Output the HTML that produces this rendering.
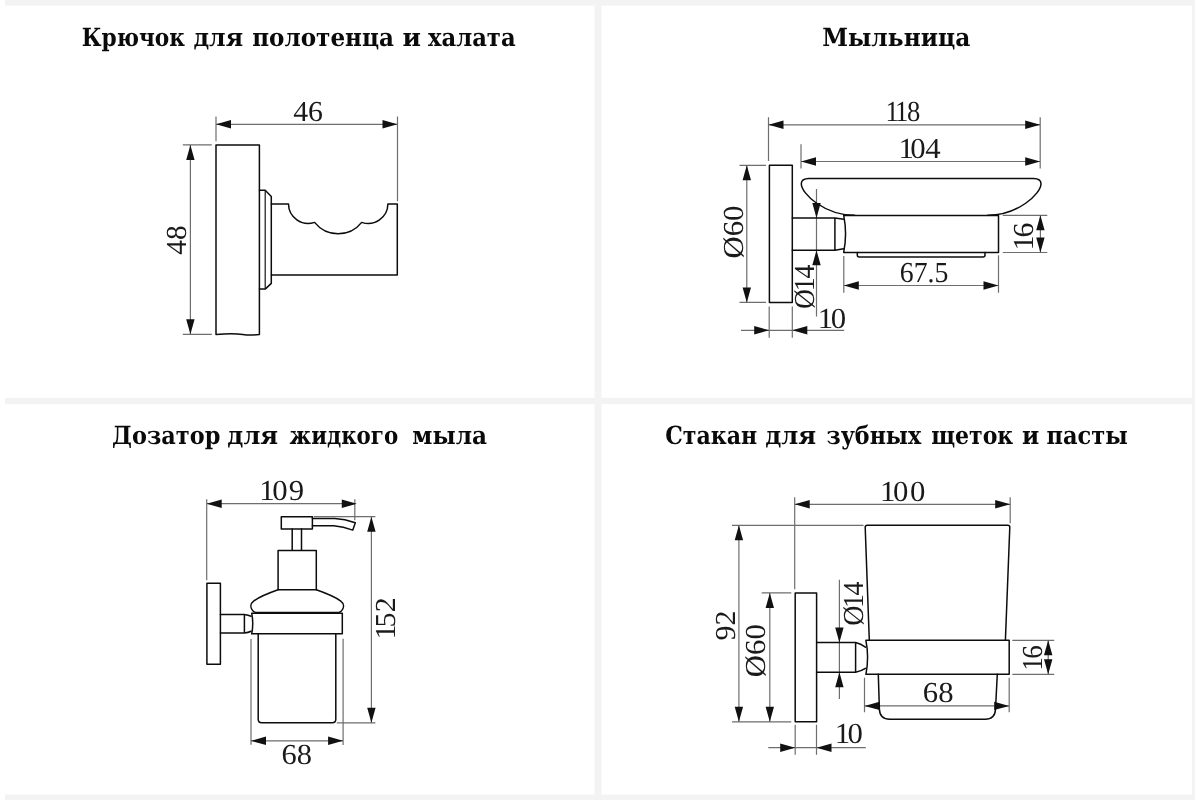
<!DOCTYPE html>
<html lang="ru">
<head>
<meta charset="utf-8">
<title>Размеры аксессуаров для ванной</title>
<style>
html,body{margin:0;padding:0;background:#fff;}
body{width:1200px;height:800px;overflow:hidden;position:relative;}
svg{position:absolute;left:0;top:0;display:block;will-change:transform;}
text{text-rendering:geometricPrecision;}
.h{font-family:"DejaVu Serif","Liberation Serif",serif;font-weight:bold;font-size:25px;fill:#0a0a0a;}
.d{font-family:"Liberation Serif",serif;font-size:28px;fill:#1a1a1a;}
.o{fill:none;stroke:#0c0c0c;stroke-width:1.5;stroke-linejoin:round;stroke-linecap:round;}
.t{fill:none;stroke:#151515;stroke-width:1.2;}
.e{fill:none;stroke:#6e6e6e;stroke-width:1.2;}
.a{fill:#111;stroke:none;}
</style>
</head>
<body>
<svg width="1200" height="800" viewBox="0 0 1200 800">
<g fill="#f3f3f3">
<rect x="5" y="0" width="1189.8" height="5.6"/>
<rect x="5" y="794.6" width="1189.8" height="5.4"/>
<rect x="1192" y="0" width="2.8" height="800"/>
<rect x="594.5" y="0" width="7" height="800"/>
<rect x="5" y="397.8" width="1189.8" height="6.4"/>
</g>
<!-- PANEL 1: hook -->
<g id="p1" transform="translate(-0.2 0.3)">
<text class="h" y="45.6"><tspan x="82.02" textLength="103.20" lengthAdjust="spacingAndGlyphs">Крючок</tspan> <tspan x="193.58" textLength="49.66" lengthAdjust="spacingAndGlyphs">для</tspan> <tspan x="252.39" textLength="141.80" lengthAdjust="spacingAndGlyphs">полотенца</tspan> <tspan x="402.73" textLength="18.46" lengthAdjust="spacingAndGlyphs">и</tspan> <tspan x="428.10" textLength="87.76" lengthAdjust="spacingAndGlyphs">халата</tspan></text>
<path class="e" d="M216.2 116.2V141 M397.7 116.2V201 M216.2 124H397.7 M183 144.6H212 M183 334H212 M190.6 144.6V334"/>
<path class="a" d="M216.2 124l15 -4.2v8.4z M397.7 124l-15 -4.2v8.4z M190.6 144.6l-4.2 15h8.4z M190.6 334l-4.2 -15h8.4z"/>
<text class="d" transform="translate(293.40 120.2) scale(1.064 1.035)">46</text>
<text class="d" transform="translate(186.2 254.39) rotate(-90) scale(1.049 1.035)">48</text>
<path class="o" d="M216.2 334.2V144.6H259.6V334.2 M216.2 334.2C228 333 236 333 243 334.2S255 334.8 259.6 334.2"/>
<path class="o" d="M259.6 190H265.4L271.5 196.2V283.1L265.4 288.8H259.6"/>
<path class="t" d="M265.4 190V288.8"/>
<path class="o" d="M271.5 203.8H288.7A19.7 19.7 0 0 0 314.8 222.1A30 30 0 0 0 361.9 222.1A19.7 19.7 0 0 0 388.1 203.8H397.5V274.7H271.5"/>
</g>
<!-- PANEL 2: soap dish -->
<g id="p2" transform="translate(-0.2 0.3)">
<text class="h" y="45.4"><tspan x="822.37" textLength="148.18" lengthAdjust="spacingAndGlyphs">Мыльница</tspan></text>
<path class="e" d="M768.7 116.9V160.6 M1040.4 116.9V168.1 M801.2 144V168.1 M768.7 124.5H1040.4 M801.2 161.2H1040.4 M739.7 165H766.2 M739.7 302.1H766.2 M747 165V302.1 M816.7 188.7V316.2 M769.4 306.2V337.5 M792.5 306.2V337.5 M741.2 330H844.4 M844 255.6V292.5 M998.7 255V292.5 M844 285.2H998.7 M1003 215H1047.5 M1003 252.2H1047.5 M1040.6 215V252.2"/>
<path class="a" d="M768.7 124.5l15 -4.2v8.4z M1040.4 124.5l-15 -4.2v8.4z M801.2 161.2l15 -4.2v8.4z M1040.4 161.2l-15 -4.2v8.4z M747 165l-4.2 15h8.4z M747 302.1l-4.2 -15h8.4z M816.7 217.6l-4.2 -15h8.4z M816.7 249.9l-4.2 15h8.4z M769.4 330l-15 -4.2v8.4z M792.5 330l15 -4.2v8.4z M844 285.2l15 -4.2v8.4z M998.7 285.2l-15 -4.2v8.4z M1040.6 215l-4.2 15h8.4z M1040.6 252.2l-4.2 -15h8.4z"/>
<text class="d" transform="translate(0 120.8) scale(0.950 1.035)" x="932.33 942.44 955.08">118</text>
<text class="d" transform="translate(0 158) scale(1.100 1.035)" x="816.92 827.75 841.43">104</text>
<text class="d" transform="translate(899.95 281.5) scale(0.993 1.035)">67.5</text>
<text class="d" transform="translate(0 327.3) scale(1.100 1.035)" x="743.56 755.50">10</text>
<text class="d" transform="translate(743.2 258.13) rotate(-90) scale(1.096 1.035)">Ø60</text>
<text class="d" transform="translate(814.2 0) rotate(-90) scale(0.986 1.035)" x="-313.11 -295.19 -282.16">Ø14</text>
<text class="d" transform="translate(1033.6 0) rotate(-90) scale(1.067 1.035)" x="-234.57 -222.30">16</text>
<path class="o" d="M769.6 165H792.5V302.1H769.6Z"/>
<path class="o" d="M792.5 217.6H835.1L843.9 218.9 M792.5 249.9H835.1L843.9 248.4 M835.1 217.6V249.9"/>
<path class="o" d="M998.7 215.1H843.9Q847.6 233.6 843.9 252.1H998.7Z"/>
<path class="o" d="M857.5 252.1V254.7Q857.5 256.7 859.5 256.7H983.2Q985.2 256.7 985.2 254.7V252.1"/>
<path class="o" d="M854.8 215C824.8 215 801.5 193.4 801.5 183.4C801.5 180 804.2 178.1 809 178.1H1033.7C1038.5 178.1 1041.2 180 1041.2 183.4C1041.2 193.4 1018 215 988 215"/>
</g>
<!-- PANEL 3: dispenser -->
<g id="p3" transform="translate(-0.2 0.3)">
<text class="h" y="443.5"><tspan x="112.29" textLength="108.26" lengthAdjust="spacingAndGlyphs">Дозатор</tspan> <tspan x="227.56" textLength="50.79" lengthAdjust="spacingAndGlyphs">для</tspan> <tspan x="289.79" textLength="108.61" lengthAdjust="spacingAndGlyphs">жидкого</tspan> <tspan x="412.49" textLength="74.77" lengthAdjust="spacingAndGlyphs">мыла</tspan></text>
<path class="e" d="M206.9 499V580 M355 499V520 M206.9 503.4H355 M314 516.4H375.6 M337 722.5H375.6 M371.6 516.4V722.5 M251.2 638.7V744.4 M343.3 638.5V744.7 M251.2 740.5H343.3"/>
<path class="a" d="M206.9 503.4l15 -4.2v8.4z M357 503.4l-15 -4.2v8.4z M371.6 516.4l-4.2 15h8.4z M371.6 722.5l-4.2 -15h8.4z M251.2 740.5l15 -4.2v8.4z M343.3 740.5l-15 -4.2v8.4z"/>
<text class="d" transform="translate(0 499.5) scale(1.100 1.035)" x="235.83 247.64 262.73">109</text>
<text class="d" transform="translate(281.73 763.5) scale(1.089 1.035)">68</text>
<text class="d" transform="translate(395.2 0) rotate(-90) scale(1.071 1.035)" x="-596.84 -585.53 -571.29">152</text>
<path class="o" d="M207.1 582.9H220.6V664H207.1Z"/>
<path class="o" d="M220.6 614.1H244.6Q248.5 614.6 251.3 615.9 M220.6 632.8H244.6Q248.5 632.3 251.3 631 M244.6 614.1V632.8"/>
<path class="o" d="M342.5 612.9H251.9Q254 623 251.9 633.5H342.5Z"/>
<path class="o" d="M258.4 633.5V719Q258.4 722.5 261.9 722.5H332.5Q336 722.5 336 719V633.5"/>
<path class="o" d="M278.3 589.5V550.2H316.5V589.5"/>
<path class="o" d="M256 612.3C254 612 253 611 252.3 609.5C250.6 607 250.4 603.4 253.8 600.8C258.5 597.3 270 592.4 278.3 589.5H316.5C324.8 592.4 336.3 597.3 341 600.8C344.4 603.4 344.2 607 342.5 609.5C341.8 611 340.8 612 338.8 612.3Z"/>
<path class="o" d="M292.4 528.7V550 M301.7 528.7V550"/>
<path class="o" d="M281.5 516.5H312.6V528.8H281.5Z"/>
<path class="o" d="M312.6 518.1H335Q345 518.6 355.5 522.5L353 529.8Q343.5 526.2 334 525.5H312.6"/>
</g>
<!-- PANEL 4: tumbler -->
<g id="p4" transform="translate(-0.2 0.3)">
<text class="h" y="443.5"><tspan x="665.42" textLength="92.07" lengthAdjust="spacingAndGlyphs">Стакан</tspan> <tspan x="765.46" textLength="50.90" lengthAdjust="spacingAndGlyphs">для</tspan> <tspan x="826.72" textLength="94.77" lengthAdjust="spacingAndGlyphs">зубных</tspan> <tspan x="931.43" textLength="82.04" lengthAdjust="spacingAndGlyphs">щеток</tspan> <tspan x="1022.19" textLength="17.25" lengthAdjust="spacingAndGlyphs">и</tspan> <tspan x="1046.71" textLength="81.29" lengthAdjust="spacingAndGlyphs">пасты</tspan></text>
<path class="e" d="M794.9 496.9V589 M1010.4 496.9V523 M794.9 504H1010.4 M732.2 525H863.7 M732.2 721.5H791.5 M739.1 525V721.5 M761.9 592.6H791.5 M770 592.6V721.5 M839.6 579.4V698.7 M795.4 724.4V754.4 M816.7 724.4V754.4 M768.5 747.4H866 M864.7 677.5V711.9 M1009.4 677.5V711.9 M864.7 705.6H1009.4 M1012.5 640H1054.4 M1012.5 674H1054.4 M1048.4 640V674"/>
<path class="a" d="M794.9 504l15 -4.2v8.4z M1010.4 504l-15 -4.2v8.4z M739.1 525l-4.2 15h8.4z M739.1 721.5l-4.2 -15h8.4z M770 592.6l-4.2 15h8.4z M770 721.5l-4.2 -15h8.4z M839.6 642.2l-4.2 -15h8.4z M839.6 672l-4.2 15h8.4z M795.4 747.4l-15 -4.2v8.4z M816.7 747.4l15 -4.2v8.4z M864.7 705.6l15 -4.2v8.4z M1009.4 705.6l-15 -4.2v8.4z M1048.4 640l-4.2 15h8.4z M1048.4 674l-4.2 -15h8.4z"/>
<text class="d" transform="translate(0 500.3) scale(1.100 1.035)" x="800.29 811.95 827.45">100</text>
<text class="d" transform="translate(0 742.9) scale(1.100 1.035)" x="759.10 770.57">10</text>
<text class="d" transform="translate(923.02 701.9) scale(1.097 1.035)">68</text>
<text class="d" transform="translate(734.8 640.30) rotate(-90) scale(1.073 1.035)">92</text>
<text class="d" transform="translate(765.3 676.83) rotate(-90) scale(1.099 1.035)">Ø60</text>
<text class="d" transform="translate(862.8 0) rotate(-90) scale(1.000 1.035)" x="-625.45 -607.62 -595.28">Ø14</text>
<text class="d" transform="translate(1042.2 0) rotate(-90) scale(0.966 1.035)" x="-694.14 -681.63">16</text>
<path class="o" d="M795.4 592.8H816.8V721.5H795.4Z"/>
<path class="o" d="M816.8 642.2H855.8Q861 643.5 865.6 646.9 M816.8 672H855.8Q861 671 865.6 668.1 M855.8 642.2V672"/>
<path class="o" d="M1009.4 640H866.1Q869.5 657 866.1 674H1009.4Z"/>
<path class="o" d="M869.5 640L865.4 527Q865.4 525 867.4 525H1008Q1010 525 1010 527L1005.6 640"/>
<path class="o" d="M878.5 674L879.6 709Q880 719 890 719H985.3Q995.3 719 995.7 709L997.5 674"/>
</g>
</svg>
</body>
</html>
